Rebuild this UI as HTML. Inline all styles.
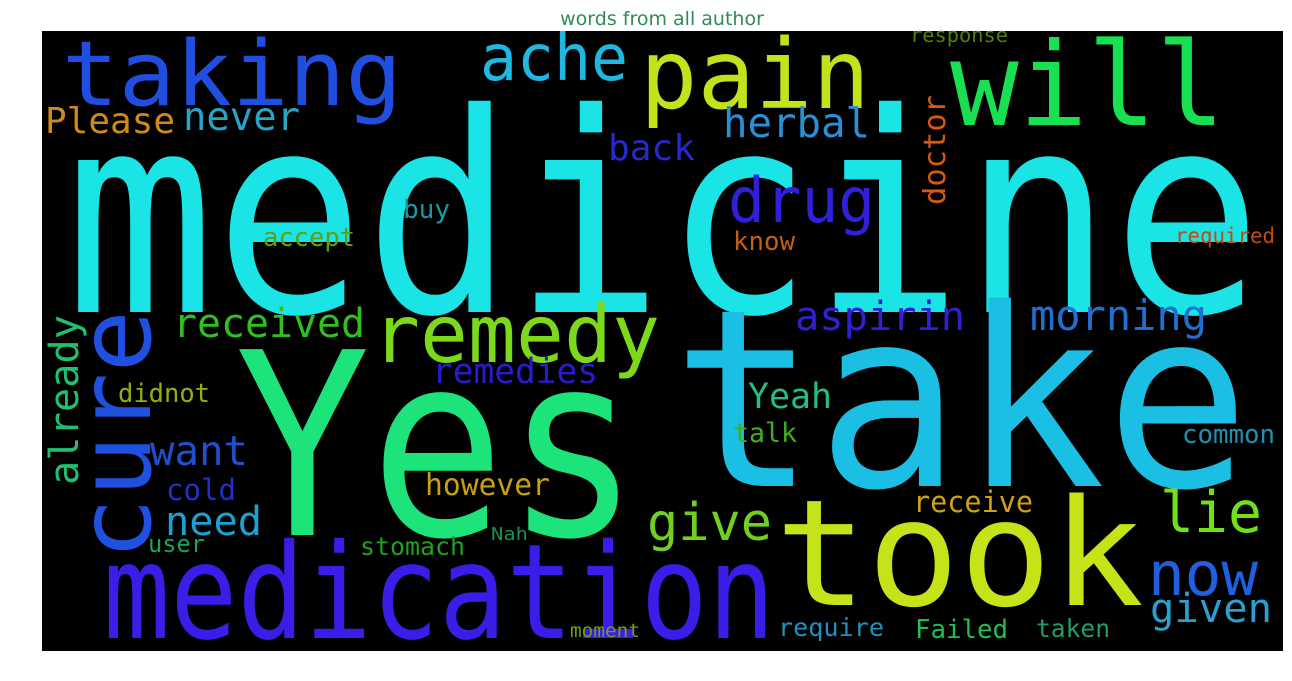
<!DOCTYPE html>
<html><head><meta charset="utf-8"><style>
html,body{margin:0;padding:0;background:#fff;width:1292px;height:681px;overflow:hidden}
svg{display:block}
</style></head><body>
<svg id="chart" width="1292" height="681" xmlns="http://www.w3.org/2000/svg">
<text x="662" y="25" text-anchor="middle" font-family="DejaVu Sans, Liberation Sans, sans-serif" font-size="19" fill="#2e8b57">words from all author</text>
<rect x="42" y="31" width="1241" height="620" fill="#000"/>
<g id="words"></g>
</svg>
<script>
const words = ["medicine","Yes","take","took","medication","taking","pain","will","ache","remedy","drug","cure","already","doctor","never","Please","herbal","back","buy","accept","know","required","received","aspirin","morning","remedies","didnot","Yeah","talk","common","want","cold","however","receive","need","give","lie","user","stomach","Nah","now","given","moment","require","Failed","taken","response"];
const fontSizes = [278,255,248,148,132,90,96,116,64,80,62,100,40,30,39,36,41,36,26,26,26,21,40,40,42,35,26,35,27,26,41,29,30,29,40,52,57,24,25,18,61,40,19,25,26,25,20];
const colors = ["#1ae4e6","#1de47a","#1bbfe3","#c6e31a","#3a1ee8","#1f4ee0","#c0e31b","#18e050","#1fb8e0","#7cd81a","#3020d8","#2050e0","#1fc070","#d85a10","#27a5c9","#d08a18","#2a8fd6","#2828d0","#1a9aa0","#60a010","#c06010","#c04a10","#30c020","#3020d0","#2070d0","#2a1ad0","#90b010","#20c080","#40b020","#2090b0","#2050d0","#2030c8","#c8a010","#d0a018","#20a0d0","#70d020","#70e018","#20a060","#20a020","#1a9050","#2060e0","#2aa0d0","#70a010","#2090c0","#20c050","#20a060","#508010"];
// layout boxes: left, right (or start/end for rotated), baseline
const lefts = [65,235,672,775,103,62,640,950,480,372,728,560,485,205,183,45,723,608,403,263,733,1175,173,795,1030,432,118,748,733,1182,150,166,425,913,165,647,1160,148,360,491,1148,1150,570,778,915,1036,910];
const rights = [1262,640,1250,1144,775,402,870,1225,628,660,875,310,315,95,300,175,870,695,450,355,795,1275,365,965,1207,598,210,832,797,1275,248,236,550,1033,262,772,1262,205,465,528,1258,1272,640,884,1008,1110,1008];
const baselines = [312,535,486,605,638,105,108,125,80,362,222,150,78,945,130,133,137,160,218,246,250,243,337,330,330,383,402,408,442,443,465,500,495,512,535,540,532,552,555,540,595,622,637,636,638,637,42];
const rotated = [0,0,0,0,0,0,0,0,0,0,0,1,1,1,0,0,0,0,0,0,0,0,0,0,0,0,0,0,0,0,0,0,0,0,0,0,0,0,0,0,0,0,0,0,0,0,0];
const g = document.getElementById('words');
const NS = 'http://www.w3.org/2000/svg';
words.forEach((w, i) => {
  const t = document.createElementNS(NS, 'text');
  
  
  t.setAttribute('font-family', 'DejaVu Sans Mono, Liberation Mono, monospace');
  t.setAttribute('font-size', fontSizes[i]);
  t.setAttribute('fill', colors[i]);
  t.setAttribute('lengthAdjust', 'spacingAndGlyphs');
  const len = Math.abs(rights[i] - lefts[i]);
  t.setAttribute('textLength', len);
  if (rotated[i]) {
    t.setAttribute('x', 0);
    t.setAttribute('y', 0);
    t.setAttribute('transform', 'translate(' + baselines[i] + ',' + lefts[i] + ') rotate(-90)');
  } else {
    t.setAttribute('x', lefts[i]);
    t.setAttribute('y', baselines[i]);
  }
  t.textContent = w;
  g.appendChild(t);
});
</script>
</body></html>
